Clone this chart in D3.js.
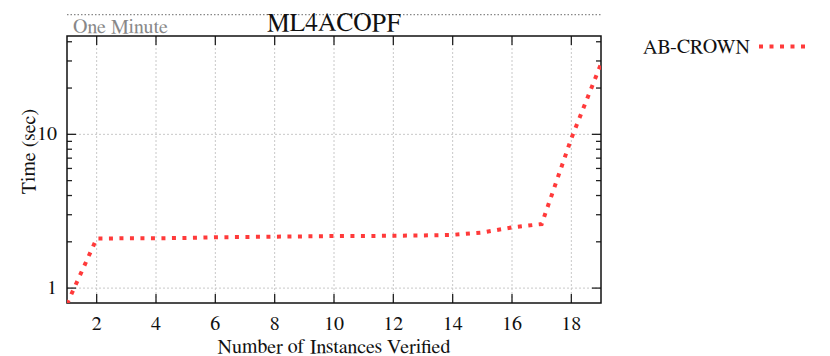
<!DOCTYPE html>
<html>
<head>
<meta charset="utf-8">
<script src="https://cdn.jsdelivr.net/npm/d3@7"></script>
<style>
  body { margin: 0; background: #fff; }
</style>
</head>
<body>
<svg id="chart" width="830" height="356"></svg>
<script>
// Data
var title = "ML4ACOPF";
var seriesName = "AB-CROWN";
var instances = [1, 2, 3, 4, 5, 6, 7, 8, 9, 10, 11, 12, 13, 14, 15, 16, 17, 18, 19];
var times = [0.79, 2.10, 2.11, 2.11, 2.12, 2.14, 2.15, 2.16, 2.17, 2.18, 2.18, 2.19, 2.20, 2.22, 2.30, 2.48, 2.61, 9.4, 28.7];
var xTicks = [2, 4, 6, 8, 10, 12, 14, 16, 18];
var yTicks = [1, 10];
var oneMinute = 60;

var font = "FreeSerif, 'Liberation Serif', 'Times New Roman', serif";

// Dimensions
var margin = { left: 67, right: 229, top: 36, bottom: 53 };
var width = 830 - margin.left - margin.right;
var height = 356 - margin.top - margin.bottom;

var svg = d3.select("#chart");
var g = svg.append("g").attr("transform", "translate(" + margin.left + "," + margin.top + ")");

var x = d3.scaleLinear().domain([1, 19]).range([0, width]);
var y = d3.scaleLog().domain([0.8, 43.6]).range([height, 0]);

var minorY = [];
[1, 10].forEach(function(p) {
  for (var k = 2; k <= 9; k++) if (p * k < 43.6 && p * k > 0.8) minorY.push(p * k);
});

function label(sel, size, fill) {
  return sel.style("font-family", font).style("font-size", size + "px").attr("fill", fill || "#111");
}

// grid
g.selectAll(".gx").data(xTicks).enter().append("line")
  .attr("x1", function(d) { return x(d); }).attr("x2", function(d) { return x(d); })
  .attr("y1", 0).attr("y2", height)
  .attr("stroke", "#c8c8c8").attr("stroke-width", 1).attr("stroke-dasharray", "2,2");
g.selectAll(".gy").data(yTicks).enter().append("line")
  .attr("x1", 0).attr("x2", width)
  .attr("y1", function(d) { return y(d); }).attr("y2", function(d) { return y(d); })
  .attr("stroke", "#c8c8c8").attr("stroke-width", 1).attr("stroke-dasharray", "2,2");

// one minute line
g.append("line")
  .attr("x1", 0).attr("x2", width)
  .attr("y1", y(oneMinute)).attr("y2", y(oneMinute))
  .attr("stroke", "#888").attr("stroke-width", 1.2).attr("stroke-dasharray", "1.5,2");
label(g.append("text"), 20, "#888")
  .attr("x", 6).attr("y", -3)
  .text("One Minute");

// ticks
var tickStroke = "#222";
function xTickLines(cls, y0, dir) {
  g.selectAll("." + cls).data(xTicks).enter().append("line")
    .attr("x1", function(d) { return x(d); }).attr("x2", function(d) { return x(d); })
    .attr("y1", y0).attr("y2", y0 + dir * 9)
    .attr("stroke", tickStroke).attr("stroke-width", 1.3);
}
xTickLines("xtb", height, -1);
xTickLines("xtt", 0, 1);
function yTickLines(cls, data, x0, dir, len) {
  g.selectAll("." + cls).data(data).enter().append("line")
    .attr("x1", x0).attr("x2", x0 + dir * len)
    .attr("y1", function(d) { return y(d); }).attr("y2", function(d) { return y(d); })
    .attr("stroke", tickStroke).attr("stroke-width", 1.3);
}
yTickLines("ytl", yTicks, 0, 1, 9);
yTickLines("ytr", yTicks, width, -1, 9);
yTickLines("ymtl", minorY, 0, 1, 5);
yTickLines("ymtr", minorY, width, -1, 5);

// border
g.append("rect")
  .attr("x", 0).attr("y", 0).attr("width", width).attr("height", height)
  .attr("fill", "none").attr("stroke", "#111").attr("stroke-width", 1.5);

// tick labels
label(g.selectAll(".xl").data(xTicks).enter().append("text"), 20)
  .attr("x", function(d) { return x(d); }).attr("y", height + 27)
  .attr("text-anchor", "middle")
  .text(function(d) { return d; });
label(g.selectAll(".yl").data(yTicks).enter().append("text"), 20)
  .attr("x", -10).attr("y", function(d) { return y(d) + 6; })
  .attr("text-anchor", "end")
  .text(function(d) { return d; });

// axis titles
label(g.append("text"), 20)
  .attr("x", width / 2).attr("y", height + 50)
  .attr("text-anchor", "middle")
  .text("Number of Instances Verified");
label(g.append("text"), 20)
  .attr("transform", "translate(-32," + (height / 2 - 18) + ") rotate(-90)")
  .attr("text-anchor", "middle")
  .text("Time (sec)");

// title
label(svg.append("text"), 25.5)
  .attr("x", 334).attr("y", 31)
  .attr("text-anchor", "middle")
  .text(title);

// series
g.append("clipPath").attr("id", "clip").append("rect")
  .attr("x", 0).attr("y", 0).attr("width", width).attr("height", height);
var line = d3.line()
  .x(function(d, i) { return x(instances[i]); })
  .y(function(d) { return y(d); });
g.append("path")
  .datum(times)
  .attr("clip-path", "url(#clip)")
  .attr("d", line)
  .attr("fill", "none")
  .attr("stroke", "#ff3a3a")
  .attr("stroke-width", 4)
  .attr("stroke-dasharray", "4,6.5");

// legend
label(svg.append("text"), 20)
  .attr("x", 643).attr("y", 53)
  .text(seriesName);
svg.append("line")
  .attr("x1", 759).attr("x2", 808).attr("y1", 46.5).attr("y2", 46.5)
  .attr("stroke", "#ff3a3a").attr("stroke-width", 4)
  .attr("stroke-dasharray", "4,6.5");
</script>
</body>
</html>
